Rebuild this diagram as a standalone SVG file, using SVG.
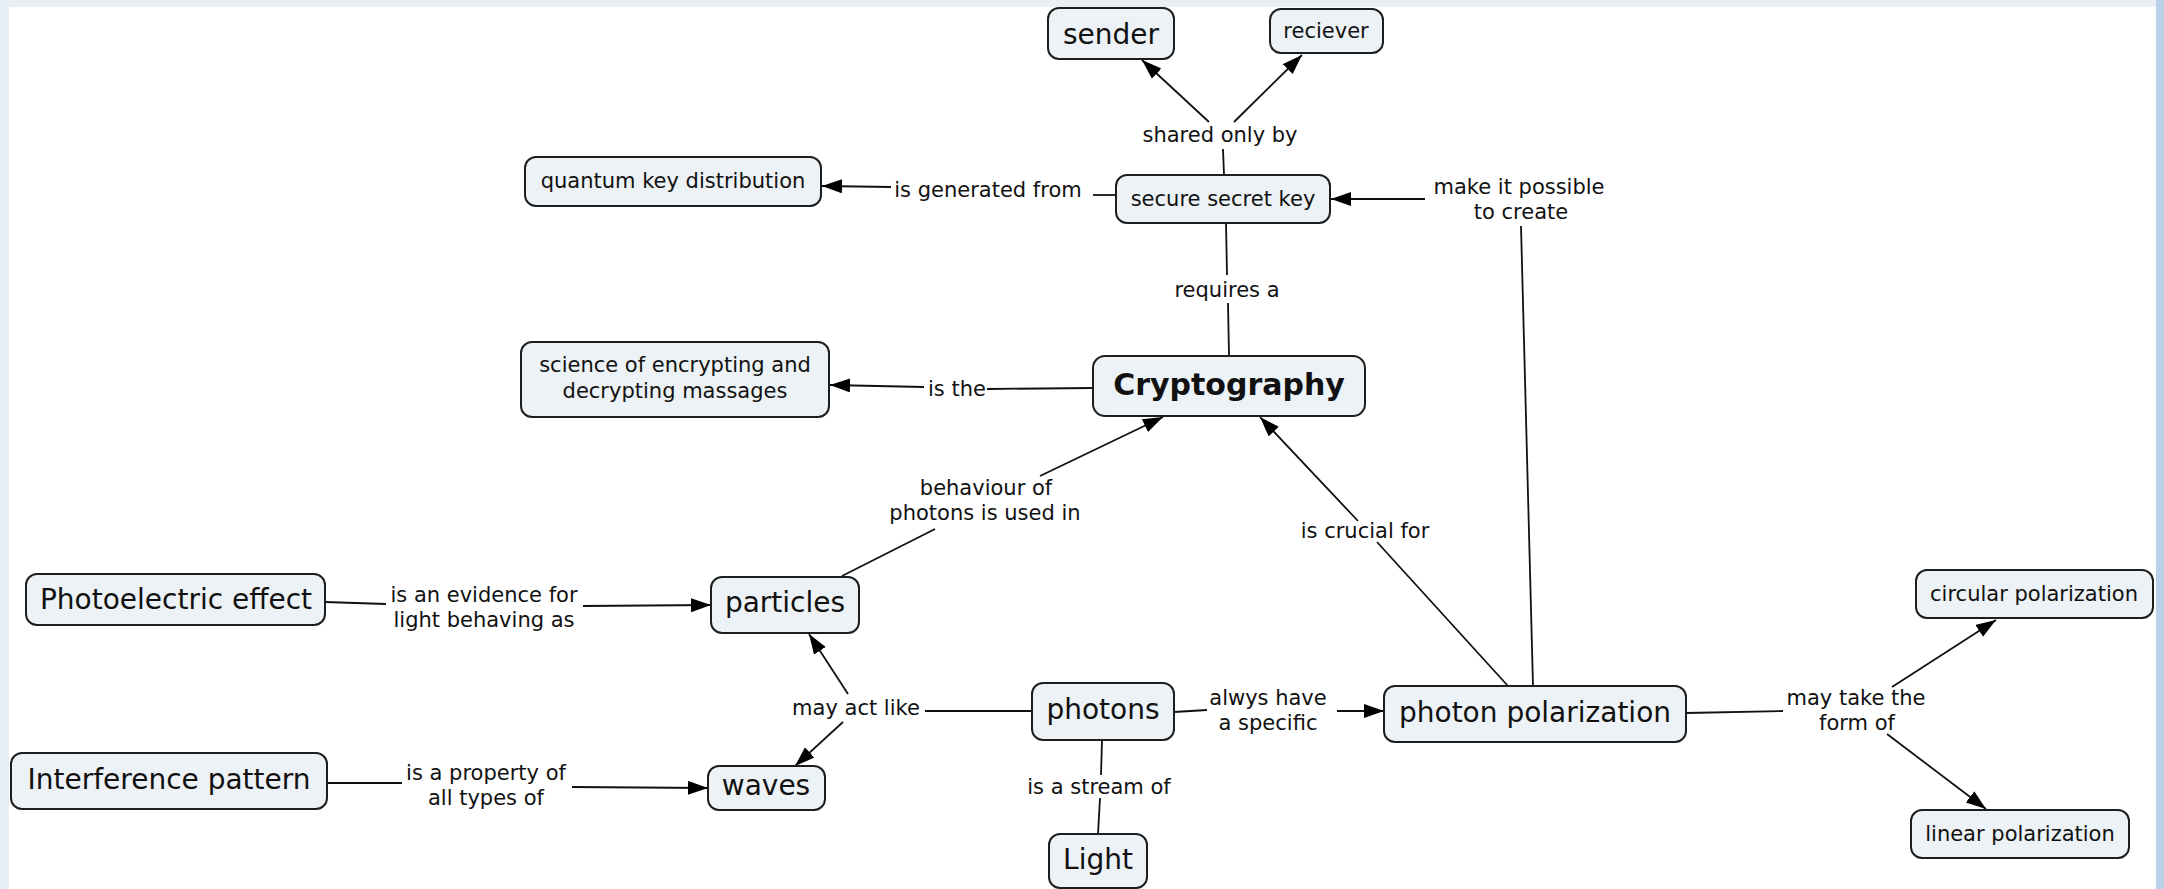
<svg xmlns="http://www.w3.org/2000/svg" width="2164" height="889" viewBox="0 0 2164 889">
<style>
.n rect{fill:#ecf2f5;stroke:#1e1e1e;stroke-width:2}
text{font-family:"DejaVu Sans","Liberation Sans",sans-serif;fill:#111;text-anchor:middle}
.big{font-size:28px}
.sm{font-size:21px}
.lb{font-size:21px}
.c line{stroke:#111;stroke-width:1.8;fill:none}
.c .a{marker-end:url(#ah)}
</style>
<defs>
<marker id="ah" markerUnits="userSpaceOnUse" markerWidth="22" markerHeight="16" refX="20" refY="7" orient="auto">
<path d="M0,0 L20,7 L0,14 z" fill="#000"/>
</marker>
</defs>
<rect x="0" y="0" width="2164" height="889" fill="#e8f0f5"/>
<rect x="2156" y="0" width="8" height="889" fill="#b9d1e8"/>
<rect x="9" y="7" width="2147" height="882" fill="#ffffff"/>

<g class="c" id="connectors">
<line x1="1224" y1="175" x2="1223" y2="149"/>
<line class="a" x1="1209" y1="122" x2="1142" y2="60"/>
<line class="a" x1="1234" y1="122" x2="1302" y2="55"/>
<line x1="1116" y1="195" x2="1093" y2="195"/>
<line class="a" x1="891" y1="187" x2="822" y2="186"/>
<line x1="1226" y1="223" x2="1227" y2="275"/>
<line x1="1228" y1="303" x2="1229" y2="356"/>
<line x1="1093" y1="388" x2="987" y2="389"/>
<line class="a" x1="924" y1="387" x2="830" y2="385"/>
<line x1="842" y1="576" x2="935" y2="529"/>
<line class="a" x1="1040" y1="476" x2="1163" y2="417"/>
<line x1="1508" y1="686" x2="1377" y2="542"/>
<line class="a" x1="1358" y1="521" x2="1260" y2="417"/>
<line x1="1533" y1="686" x2="1521" y2="226"/>
<line class="a" x1="1425" y1="199" x2="1331" y2="199"/>
<line x1="325" y1="602" x2="386" y2="604"/>
<line class="a" x1="583" y1="606" x2="711" y2="605"/>
<line x1="327" y1="783" x2="402" y2="783"/>
<line class="a" x1="572" y1="787" x2="708" y2="788"/>
<line x1="1032" y1="711" x2="925" y2="711"/>
<line class="a" x1="848" y1="694" x2="809" y2="634"/>
<line class="a" x1="843" y1="722" x2="795" y2="766"/>
<line x1="1174" y1="712" x2="1207" y2="710"/>
<line class="a" x1="1337" y1="711" x2="1384" y2="711"/>
<line x1="1102" y1="740" x2="1101" y2="775"/>
<line x1="1100" y1="798" x2="1098" y2="834"/>
<line x1="1686" y1="713" x2="1783" y2="711"/>
<line class="a" x1="1892" y1="687" x2="1996" y2="620"/>
<line class="a" x1="1887" y1="734" x2="1986" y2="809"/>
</g>

<g id="labels">
<text class="lb" x="1220" y="142">shared only by</text>
<text class="lb" x="988" y="197">is generated from</text>
<text class="lb" x="1519" y="194">make it possible</text>
<text class="lb" x="1521" y="219">to create</text>
<text class="lb" x="1227" y="297">requires a</text>
<text class="lb" x="957" y="396">is the</text>
<text class="lb" x="986" y="495">behaviour of</text>
<text class="lb" x="985" y="520">photons is used in</text>
<text class="lb" x="1365" y="538">is crucial for</text>
<text class="lb" x="484" y="602">is an evidence for</text>
<text class="lb" x="484" y="627">light behaving as</text>
<text class="lb" x="486" y="780">is a property of</text>
<text class="lb" x="486" y="805">all types of</text>
<text class="lb" x="856" y="715">may act like</text>
<text class="lb" x="1268" y="705">alwys have</text>
<text class="lb" x="1268" y="730">a specific</text>
<text class="lb" x="1099" y="794">is a stream of</text>
<text class="lb" x="1856" y="705">may take the</text>
<text class="lb" x="1857" y="730">form of</text>
</g>

<g class="n" id="sender"><rect x="1048" y="8" width="126" height="51" rx="11"/><text class="big" x="1111" y="44">sender</text></g>
<g class="n" id="reciever"><rect x="1270" y="9" width="113" height="44" rx="11"/><text class="sm" x="1326" y="38">reciever</text></g>
<g class="n" id="qkd"><rect x="525" y="157" width="296" height="49" rx="11"/><text class="sm" x="673" y="188">quantum key distribution</text></g>
<g class="n" id="secure"><rect x="1116" y="175" width="214" height="48" rx="11"/><text class="sm" x="1223" y="206">secure secret key</text></g>
<g class="n" id="science"><rect x="521" y="342" width="308" height="75" rx="11"/><text class="sm" x="675" y="372">science of encrypting and</text><text class="sm" x="675" y="398">decrypting massages</text></g>
<g class="n" id="crypto"><rect x="1093" y="356" width="272" height="60" rx="12"/><text x="1229" y="395" style="font-size:30px;font-weight:bold">Cryptography</text></g>
<g class="n" id="photoelectric"><rect x="26" y="574" width="299" height="51" rx="11"/><text class="big" x="176" y="609">Photoelectric effect</text></g>
<g class="n" id="particles"><rect x="711" y="577" width="148" height="56" rx="11"/><text class="big" x="785" y="612">particles</text></g>
<g class="n" id="interference"><rect x="11" y="753" width="316" height="56" rx="11"/><text class="big" x="169" y="789">Interference pattern</text></g>
<g class="n" id="waves"><rect x="708" y="766" width="117" height="44" rx="11"/><text class="big" x="766" y="795">waves</text></g>
<g class="n" id="photons"><rect x="1032" y="683" width="142" height="57" rx="11"/><text class="big" x="1103" y="719">photons</text></g>
<g class="n" id="light"><rect x="1049" y="834" width="98" height="54" rx="11"/><text class="big" x="1098" y="869">Light</text></g>
<g class="n" id="polarization"><rect x="1384" y="686" width="302" height="56" rx="11"/><text class="big" x="1535" y="722">photon polarization</text></g>
<g class="n" id="circular"><rect x="1916" y="570" width="237" height="48" rx="11"/><text class="sm" x="2034" y="601">circular polarization</text></g>
<g class="n" id="linear"><rect x="1911" y="810" width="218" height="48" rx="11"/><text class="sm" x="2020" y="841">linear polarization</text></g>
</svg>
